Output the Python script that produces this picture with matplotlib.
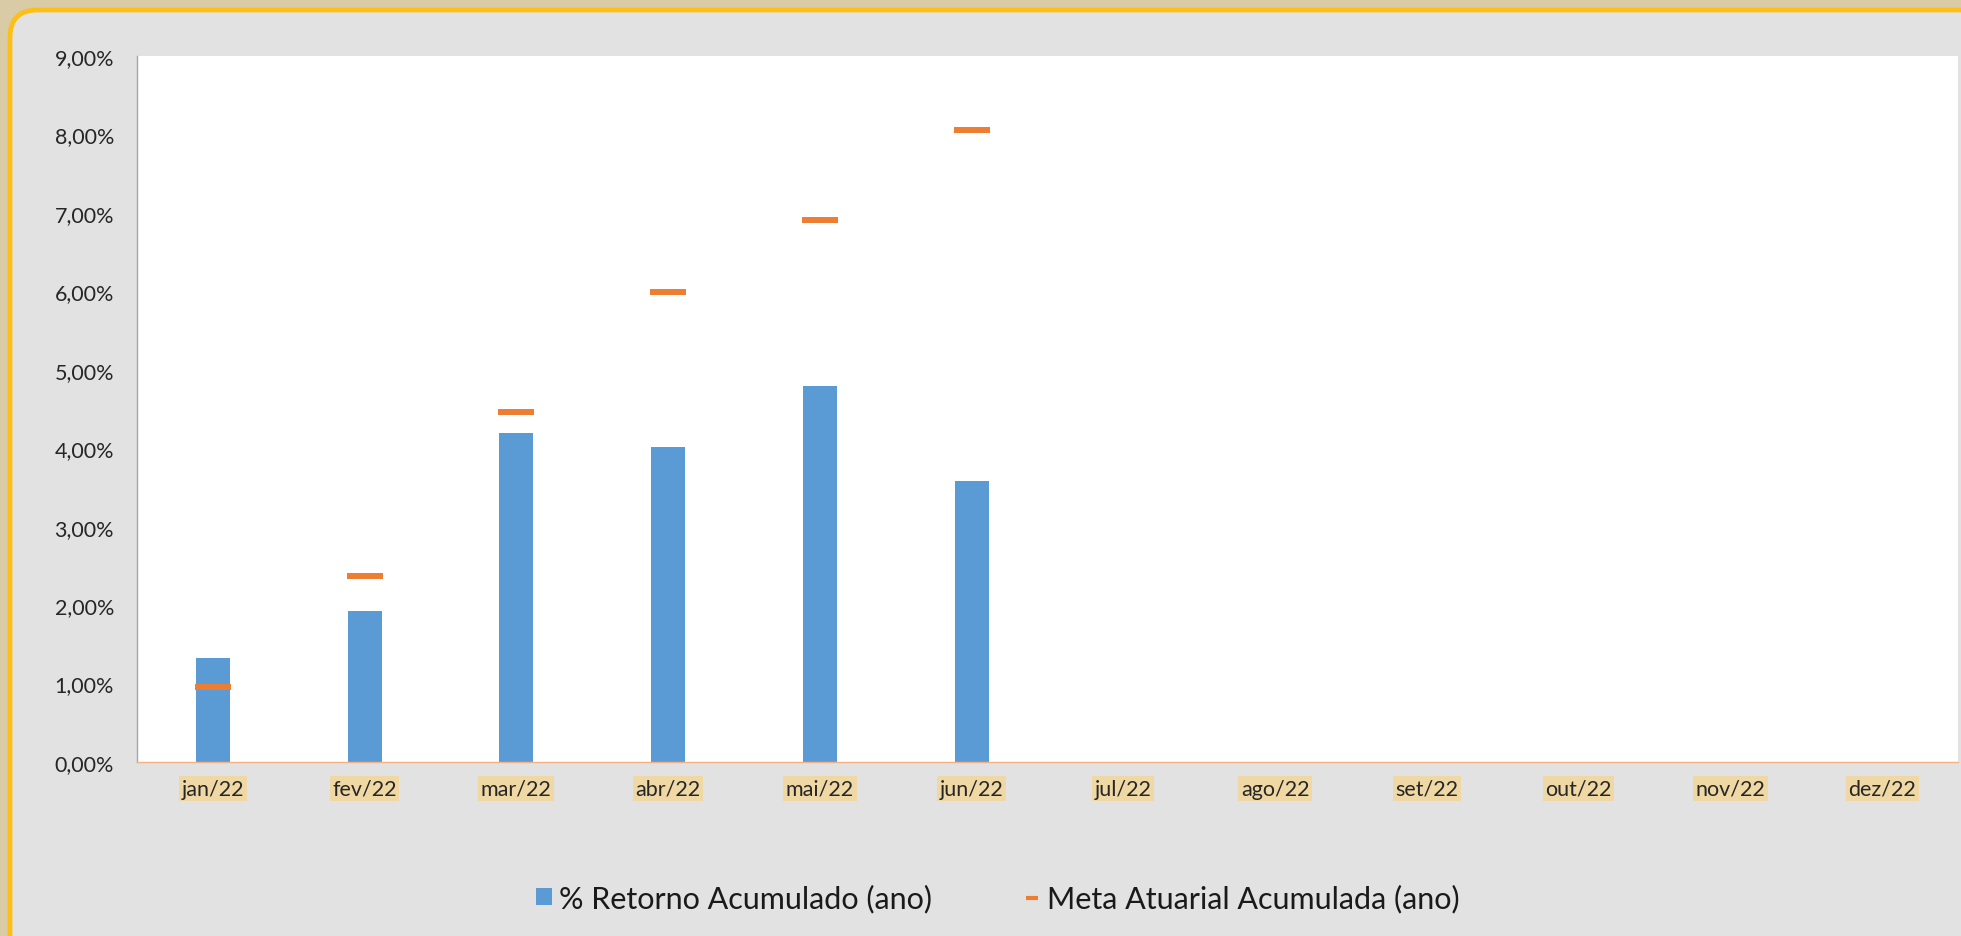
import matplotlib.pyplot as plt
import numpy as np
from matplotlib.patches import FancyBboxPatch, Patch
from matplotlib.lines import Line2D
from matplotlib.ticker import FuncFormatter, MultipleLocator

plt.rcParams['font.family'] = ['Lato', 'DejaVu Sans']

# ***********************
# DATA
# ***********************
meses = ["jan/22", "fev/22", "mar/22", "abr/22", "mai/22", "jun/22",
         "jul/22", "ago/22", "set/22", "out/22", "nov/22", "dez/22"]

# % retorno acumulado (ano) - only jan..jun available
retorno = [1.33, 1.92, 4.19, 4.01, 4.79, 3.58,
           np.nan, np.nan, np.nan, np.nan, np.nan, np.nan]

# meta atuarial acumulada (ano)
meta = [0.95, 2.37, 4.46, 5.99, 6.91, 8.06,
        np.nan, np.nan, np.nan, np.nan, np.nan, np.nan]

retorno = np.array(retorno) / 100
meta = np.array(meta) / 100

BLUE = "#5B9BD5"
ORANGE = "#ED7D31"

# ***********************
# FIGURE
# ***********************
fig = plt.figure(figsize=(19.61, 9.37), dpi=100)
fig.patch.set_facecolor("#D8CBA6")

# gray panel with rounded orange border (extends past right/bottom edge)
panel = FancyBboxPatch(
    (10 / 1961, -0.05), 1.05, (937 - 11) / 937 + 0.05,
    boxstyle="round,pad=0,rounding_size=0.014",
    transform=fig.transFigure,
    facecolor="#E2E2E2", edgecolor="#FDBE16", linewidth=3.4,
    mutation_aspect=1961 / 937, zorder=-10
)
fig.patches.append(panel)

ax = fig.add_axes([137 / 1961, (937 - 763) / 937,
                   (1958 - 137) / 1961, (763 - 57) / 937])
ax.set_zorder(1)
ax.set_facecolor("#FFFFFF")

x = np.arange(len(meses))
ax.bar(x, retorno, width=0.224, color=BLUE, zorder=2)
ax.plot(x, meta, linestyle="none", marker="_", markersize=26,
        markeredgewidth=4.3, color=ORANGE, zorder=3)

ax.set_xlim(-0.5, len(meses) - 0.5)
ax.set_ylim(0, 0.09)
ax.yaxis.set_major_locator(MultipleLocator(0.01))
ax.yaxis.set_major_formatter(
    FuncFormatter(lambda v, p: f"{v * 100:.2f}%".replace(".", ",")))

ax.set_xticks(x)
ax.set_xticklabels(meses)

for s in ["top", "right"]:
    ax.spines[s].set_visible(False)
ax.spines["left"].set_color("#A6A6A6")
ax.spines["left"].set_linewidth(1)
ax.spines["bottom"].set_color("#F4B183")
ax.spines["bottom"].set_linewidth(1)

ax.tick_params(axis="y", length=0, pad=16.5, labelsize=15.5,
               labelcolor="#262626")
ax.tick_params(axis="x", length=0, pad=12, labelsize=15.5,
               labelcolor="#262626")

for lbl in ax.get_xticklabels():
    lbl.set_bbox(dict(boxstyle="square,pad=0.12", facecolor="#EFD8A4",
                      edgecolor="none"))

# ***********************
# LEGEND
# ***********************
handles = [
    Patch(facecolor=BLUE, edgecolor="none", label="% Retorno Acumulado (ano)"),
    Line2D([0], [0], linestyle="none", marker="_", markersize=9,
           markeredgewidth=3, color=ORANGE, label="Meta Atuarial Acumulada (ano)"),
]
fig.legend(handles=handles, loc="center", ncol=2,
           bbox_to_anchor=(998 / 1961, (937 - 899) / 937),
           frameon=False, fontsize=22, handlelength=0.5, handleheight=0.5,
           handletextpad=0.25, columnspacing=3.0, labelcolor="#1A1A1A")

plt.savefig("out.png", dpi=100, facecolor=fig.get_facecolor())
